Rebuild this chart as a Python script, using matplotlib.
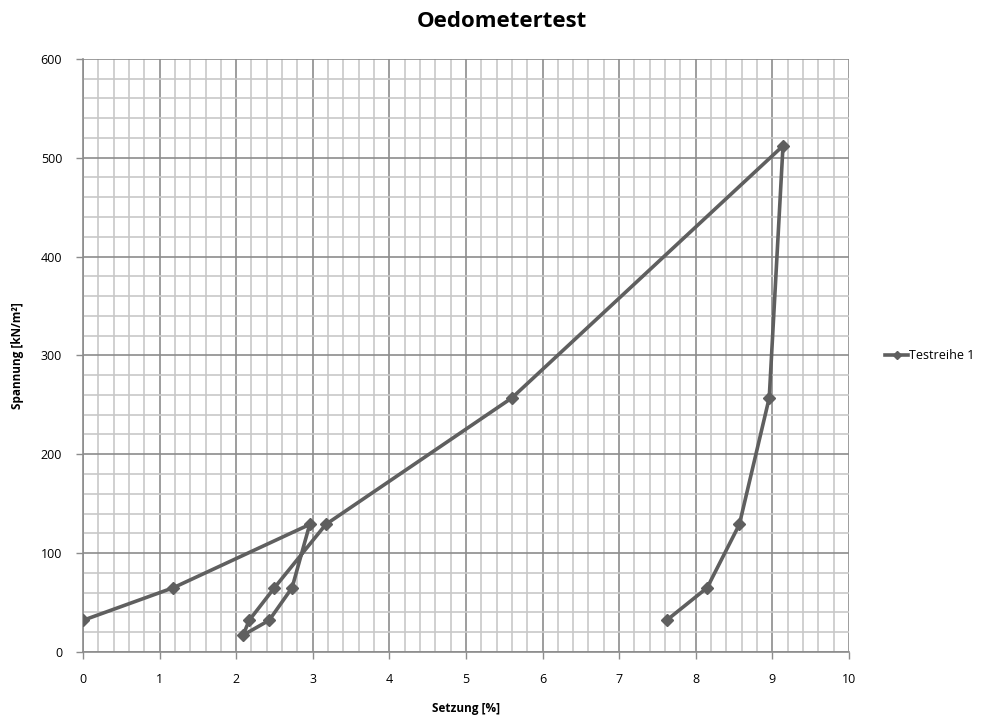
import matplotlib.pyplot as plt
from matplotlib.ticker import MultipleLocator

# settlement [%] and stress [kN/m2], in the order the test was run
setzung = [0, 1.18, 2.96, 2.73, 2.43, 2.09, 2.17, 2.50, 3.17, 5.60, 9.14, 8.96, 8.57, 8.15, 7.62]
spannung = [32, 65, 129, 65, 32, 17, 32, 65, 129, 257, 512, 257, 129, 65, 32]
serie = "Testreihe 1"

plt.rcParams['font.family'] = ['Open Sans', 'DejaVu Sans']

LINE = '#5f5f5f'

fig = plt.figure(figsize=(9.94, 7.22), dpi=100)
ax = fig.add_axes([0.0835, 0.097, 0.7705, 0.8215])

ax.plot(setzung, spannung, '-', color=LINE, lw=2.6, marker='D', ms=6.5,
        mfc=LINE, mec=LINE, label=serie, zorder=3)

ax.set_xlim(0, 10)
ax.set_ylim(0, 600)
ax.xaxis.set_major_locator(MultipleLocator(1))
ax.xaxis.set_minor_locator(MultipleLocator(0.2))
ax.yaxis.set_major_locator(MultipleLocator(100))
ax.yaxis.set_minor_locator(MultipleLocator(20))

ax.grid(which='major', color='#8c8c8c', lw=1.2, zorder=1)
ax.grid(which='minor', color='#c8c8c8', lw=1.2, zorder=0)
ax.set_axisbelow(True)

for side in ['top', 'right']:
    ax.spines[side].set_visible(False)
for side in ['left', 'bottom']:
    ax.spines[side].set_color('#8c8c8c')
    ax.spines[side].set_linewidth(1.2)

ax.tick_params(which='major', length=5, width=1, color='#8c8c8c',
               labelsize=9, pad=10)
ax.tick_params(which='minor', length=0)

ax.set_xlabel("Setzung [%]", fontsize=8.5, fontweight='bold', labelpad=12)
ax.set_ylabel("Spannung [kN/m²]", fontsize=8.5, fontweight='bold', labelpad=12)
fig.suptitle("Oedometertest", fontsize=16, fontweight='bold', x=0.505, y=0.985)

ax.legend(loc='center left', bbox_to_anchor=(1.033, 0.5), frameon=False,
          fontsize=9, handlelength=1.8, handletextpad=0.1, markerscale=0.7)

fig.savefig('out.png', dpi=100)
